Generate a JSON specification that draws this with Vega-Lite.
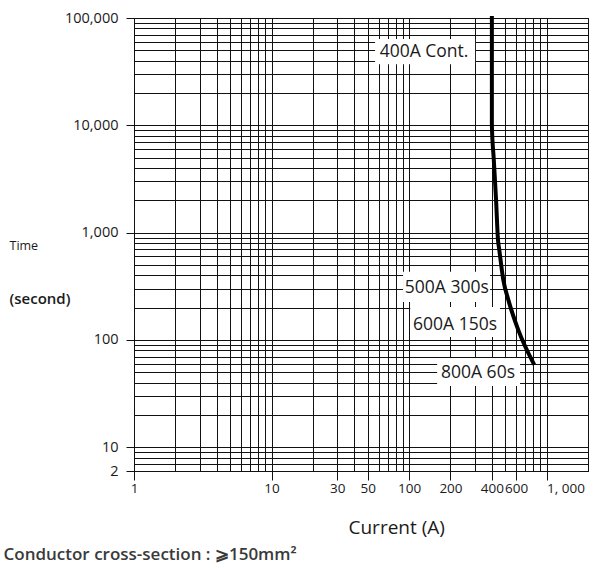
{
  "$schema": "https://vega.github.io/schema/vega-lite/v6.json",
  "autosize": {"type": "none"},
  "padding": {"left": 134, "top": 18, "right": 18, "bottom": 97},
  "width": 454,
  "height": 453,
  "background": "white",
  "config": {
    "view": {"stroke": "#111", "strokeWidth": 1},
    "axis": {
      "labelFont": "Open Sans",
      "titleFont": "Open Sans",
      "labelColor": "#1a1a1a",
      "titleColor": "#1a1a1a",
      "domainColor": "#111",
      "tickColor": "#111",
      "gridColor": "#111",
      "gridOpacity": 1,
      "labelOverlap": false,
      "labelFlush": false,
      "labelBound": false
    }
  },
  "resolve": {"axis": {"x": "independent", "y": "independent"}},
  "layer": [
    {
      "data": {"values": [
        {"x1": 56.6, "x2": 302, "y1": 37100, "y2": 63700},
        {"x1": 90.4, "x2": 388, "y1": 226, "y2": 432},
        {"x1": 102, "x2": 458, "y1": 106.6, "y2": 203},
        {"x1": 160, "x2": 641, "y1": 37.2, "y2": 67.9}
      ]},
      "mark": {"type": "rect", "color": "white"},
      "encoding": {
        "x": {
          "field": "x1", "type": "quantitative",
          "scale": {"type": "log", "domain": [1, 2000], "nice": false, "zero": false},
          "axis": {
            "orient": "bottom",
            "title": "Current (A)",
            "titleFontSize": 19,
            "titleFontWeight": "normal",
            "titleAlign": "left",
            "titleBaseline": "alphabetic",
            "titleX": 214,
            "titleY": 62,
            "values": [1,2,3,4,5,6,7,8,9,10,20,30,40,50,60,70,80,90,100,200,300,400,500,600,700,800,900,1000,2000],
            "grid": true,
            "gridWidth": 1,
            "tickSize": 9,
            "tickOpacity": {"condition": {"test": "indexof([1,10,30,50,100,200,400,600,1000], datum.value) >= 0", "value": 1}, "value": 0},
            "labelExpr": "datum.value == 1000 ? '1, 000' : (indexof([1,10,30,50,100,200,400,600], datum.value) >= 0 ? '' + datum.value : '')",
            "labelAlign": {"condition": {"test": "datum.value == 1000", "value": "left"}, "value": "center"},
            "labelFontSize": 13.5,
            "labelPadding": 1
          }
        },
        "x2": {"field": "x2"},
        "y": {
          "field": "y1", "type": "quantitative",
          "scale": {"type": "log", "domain": [6, 100000], "nice": false, "zero": false},
          "axis": {
            "orient": "left",
            "title": "Time",
            "titleAngle": 0,
            "titleFontSize": 12.5,
            "titleFontWeight": "normal",
            "titleAlign": "left",
            "titleBaseline": "alphabetic",
            "titleX": -125,
            "titleY": 231,
            "values": [6,7,8,9,10,20,30,40,50,60,70,80,90,100,200,300,400,500,600,700,800,900,1000,2000,3000,4000,5000,6000,7000,8000,9000,10000,20000,30000,40000,50000,60000,70000,80000,90000,100000],
            "grid": true,
            "gridWidth": 1,
            "tickSize": 8,
            "tickOpacity": {"condition": {"test": "indexof([6,10,100,1000,10000,100000], datum.value) >= 0", "value": 1}, "value": 0},
            "labelExpr": "datum.value == 6 ? '2' : (indexof([10,100,1000,10000,100000], datum.value) >= 0 ? format(datum.value, ',') : '')",
            "labelFontSize": 14.5,
            "labelPadding": 8
          }
        },
        "y2": {"field": "y2"}
      }
    },
    {
      "data": {"values": [
        {"current": 400, "time": 100000},
        {"current": 400, "time": 10000},
        {"current": 413, "time": 4800},
        {"current": 429, "time": 2030},
        {"current": 443, "time": 860},
        {"current": 453, "time": 690},
        {"current": 484, "time": 364},
        {"current": 527, "time": 236},
        {"current": 622, "time": 124},
        {"current": 800, "time": 61}
      ]},
      "mark": {"type": "line", "color": "black", "strokeWidth": 4, "strokeCap": "square", "interpolate": "monotone"},
      "encoding": {
        "x": {
          "field": "current", "type": "quantitative",
          "axis": {
            "orient": "bottom",
            "title": "Conductor cross-section : ⩾150mm²",
            "titleFontSize": 17,
            "titleFontWeight": 600,
            "titleColor": "#3a3a3a",
            "titleAlign": "left",
            "titleBaseline": "alphabetic",
            "titleX": -131,
            "titleY": 88,
            "labels": false, "ticks": false, "domain": false, "grid": false
          }
        },
        "y": {
          "field": "time", "type": "quantitative",
          "axis": {
            "orient": "left",
            "title": "(second)",
            "titleAngle": 0,
            "titleFontSize": 15,
            "titleFontWeight": 600,
            "titleAlign": "left",
            "titleBaseline": "alphabetic",
            "titleX": -125,
            "titleY": 285,
            "labels": false, "ticks": false, "domain": false, "grid": false
          }
        },
        "order": {"field": "time", "sort": "descending"}
      }
    },
    {
      "data": {"values": [
        {"label": "400A Cont.", "current": 128.5, "time": 48400},
        {"label": "500A 300s", "current": 188, "time": 306},
        {"label": "600A 150s", "current": 216, "time": 138},
        {"label": "800A 60s", "current": 317, "time": 49.2}
      ]},
      "mark": {"type": "text", "font": "Open Sans", "fontSize": 17.5, "color": "#1a1a1a", "align": "center", "baseline": "middle"},
      "encoding": {
        "x": {"field": "current", "type": "quantitative", "axis": null},
        "y": {"field": "time", "type": "quantitative", "axis": null},
        "text": {"field": "label"}
      }
    }
  ]
}
